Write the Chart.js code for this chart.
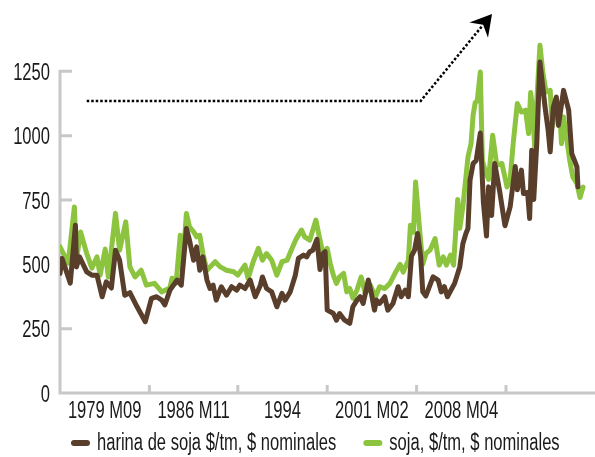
<!DOCTYPE html>
<html>
<head>
<meta charset="utf-8">
<script src="https://cdn.jsdelivr.net/npm/chart.js@4.4.1/dist/chart.umd.min.js"></script>
<style>
  body { margin: 0; background: #fff; }
</style>
</head>
<body>
<canvas id="grafico" width="595" height="457"></canvas>
<script>
// meses contados desde 1979 M09
const mesesHarina = [0, 2, 10, 15, 16, 19, 26, 31, 36, 41, 45, 50, 54, 58, 63, 68, 75, 83, 89, 94, 99, 102, 107, 114, 118,
    123, 126, 130, 133, 136, 139, 143, 146, 149, 152, 157, 162, 167, 172, 175, 180, 185, 190, 195, 197, 201, 206, 211, 216,
    219, 224, 229, 232, 237, 240, 243, 246, 250, 253, 256, 258, 260, 263, 266, 269, 272, 277, 282, 285, 289, 292, 295, 300,
    303, 306, 308, 311, 316, 319, 324, 329, 332, 336, 339, 342, 345, 348, 351, 353, 356, 360, 363, 368, 371, 374, 377, 384,
    389, 392, 395, 397, 399, 402, 405, 409, 412, 415, 417, 420, 423, 428, 433, 438, 443, 445, 449, 451, 455, 457, 459, 461,
    464, 467, 472, 475, 477, 480, 483, 485, 490, 495, 498, 501, 503, 504];
const harina = [465, 523, 427, 652, 490, 529, 471, 458, 458, 374, 432, 408, 555, 516, 380, 390, 335, 277, 368, 374, 361, 342, 400, 439, 419,
    639, 594, 516, 568, 477, 529, 439, 406, 419, 361, 413, 380, 413, 400, 419, 406, 439, 374, 419, 451, 406, 393, 335, 387,
    361, 393, 458, 523, 536, 529, 549, 555, 597, 480, 542, 549, 322, 316, 309, 283, 309, 283, 271, 335, 361, 374, 348, 439,
    387, 322, 361, 348, 374, 322, 348, 413, 374, 400, 374, 532, 555, 620, 529, 393, 377, 419, 451, 439, 393, 413, 374, 426,
    490, 580, 620, 640, 827, 892, 904, 1010, 740, 610, 801, 690, 892, 780, 650, 723, 880, 790, 866, 775, 780, 678, 943, 752,
    975, 1286, 1111, 1021, 937, 1110, 1150, 1040, 1176, 1099, 930, 900, 879, 801];

const mesesSoja = [0, 8, 14, 16, 20, 26, 31, 36, 39, 44, 47, 54, 58, 64, 68, 73, 79, 84, 92, 99, 107, 109, 113, 117, 119,
    123, 126, 130, 133, 136, 139, 143, 146, 151, 156, 162, 169, 173, 180, 183, 188, 193, 197, 201, 206, 211, 216, 221, 225,
    230, 235, 238, 243, 249, 253, 256, 260, 263, 266, 269, 272, 276, 279, 282, 285, 289, 293, 297, 302, 307, 311, 316, 321,
    326, 331, 334, 339, 341, 344, 346, 350, 353, 356, 360, 365, 369, 373, 376, 380, 383, 387, 389, 392, 397, 400, 402, 404,
    406, 409, 411, 414, 417, 421, 425, 430, 435, 438, 441, 445, 449, 453, 456, 458, 460, 462, 464, 467, 470, 473, 477, 479,
    483, 486, 488, 490, 493, 496, 499, 503, 506, 509];
const soja = [568, 505, 723, 516, 626, 542, 485, 529, 458, 559, 451, 698, 555, 665, 490, 451, 477, 419, 426, 393, 408, 446, 427, 613, 477,
    698, 646, 626, 607, 613, 542, 477, 490, 510, 490, 477, 471, 458, 497, 445, 510, 562, 516, 542, 516, 458, 510, 516, 555,
    600, 633, 607, 594, 672, 594, 542, 562, 503, 458, 426, 451, 465, 393, 406, 368, 400, 451, 387, 419, 374, 413, 406, 426,
    465, 500, 470, 516, 652, 625, 820, 633, 500, 542, 555, 600, 497, 529, 497, 536, 497, 752, 640, 723, 917, 969, 1080, 1128,
    1135, 1247, 904, 860, 830, 1002, 885, 892, 801, 827, 970, 1125, 1092, 1099, 1008, 1168, 1100, 950, 1137, 1351, 1241, 1170, 1176, 1034,
    1140, 1111, 969, 1073, 990, 904, 840, 814, 760, 800];

const etiquetasX = ['1979 M09', '1986 M11', '1994', '2001 M02', '2008 M04'];
const limitesX = [0, 87, 173, 260, 347, 434];
const ticksY = [0, 250, 500, 750, 1000, 1250];

// flecha punteada (mes, valor)
const flechaMeses = [26, 351, 420.4];
const flechaValores = [1135, 1135, 1473];

const colorTexto = '#1a1a1a';
const colorEje = '#c8c8c8';
// Liberation Sans estrechada, parecida a una condensada
const fuenteTexto = '23px "Liberation Sans", Arial, sans-serif';
const estrechar = 0.72;

const posEtiquetas = etiquetasX.map((e, i) => (limitesX[i] + limitesX[i + 1]) / 2);

function texto(ctx, s, x, y, align) {
    ctx.save();
    ctx.translate(x, y);
    ctx.scale(estrechar, 1);
    ctx.textAlign = align;
    ctx.textBaseline = 'alphabetic';
    ctx.fillText(s, 0, 0);
    ctx.restore();
}

// ejes grises con marcas hacia dentro
const ejes = {
    id: 'ejes',
    beforeDatasetsDraw(chart) {
        const { ctx, chartArea, scales: { x, y } } = chart;
        const x0 = chartArea.left;
        const y0 = y.getPixelForValue(0);
        ctx.save();
        ctx.strokeStyle = colorEje;
        ctx.lineWidth = 3;
        ctx.beginPath();
        ctx.moveTo(x0, y0);
        ctx.lineTo(x0, y.getPixelForValue(1250) - 1.5);
        ctx.moveTo(x0 - 1.5, y0);
        ctx.lineTo(chartArea.right, y0);
        ticksY.forEach(v => {
            const py = y.getPixelForValue(v);
            ctx.moveTo(x0, py);
            ctx.lineTo(x0 + 12, py);
        });
        limitesX.slice(1).forEach(m => {
            const px = x.getPixelForValue(m);
            ctx.moveTo(px, y0);
            ctx.lineTo(px, y0 - 8);
        });
        ctx.stroke();
        ctx.restore();
    }
};

const flecha = {
    id: 'flecha',
    afterDatasetsDraw(chart) {
        const { ctx, scales: { x, y } } = chart;
        const pts = flechaMeses.map((m, i) => [x.getPixelForValue(m), y.getPixelForValue(flechaValores[i])]);
        const tip = pts[pts.length - 1];
        const prev = pts[pts.length - 2];
        const len = Math.hypot(tip[0] - prev[0], tip[1] - prev[1]);
        const ux = (tip[0] - prev[0]) / len, uy = (tip[1] - prev[1]) / len;
        const nx = -uy, ny = ux;
        ctx.save();
        ctx.strokeStyle = '#000';
        ctx.lineWidth = 2.5;
        ctx.setLineDash([2.5, 2]);
        ctx.beginPath();
        ctx.moveTo(pts[0][0], pts[0][1]);
        for (let i = 1; i < pts.length - 1; i++) ctx.lineTo(pts[i][0], pts[i][1]);
        ctx.lineTo(tip[0] - ux * 15, tip[1] - uy * 15);
        ctx.stroke();
        ctx.setLineDash([]);
        ctx.fillStyle = '#000';
        ctx.beginPath();
        ctx.moveTo(tip[0], tip[1]);
        ctx.lineTo(tip[0] - ux * 21 + nx * 12, tip[1] - uy * 21 + ny * 12);
        ctx.lineTo(tip[0] - ux * 14, tip[1] - uy * 14);
        ctx.lineTo(tip[0] - ux * 21 - nx * 12, tip[1] - uy * 21 - ny * 12);
        ctx.closePath();
        ctx.fill();
        ctx.restore();
    }
};

// etiquetas de ejes y leyenda con letra estrecha
const textos = {
    id: 'textos',
    afterDraw(chart) {
        const { ctx, chartArea, scales: { x, y } } = chart;
        const y0 = y.getPixelForValue(0);
        ctx.save();
        ctx.font = fuenteTexto;
        ctx.fillStyle = colorTexto;
        ticksY.forEach(v => texto(ctx, String(v), chartArea.left - 10, y.getPixelForValue(v) + 8.5, 'right'));
        etiquetasX.forEach((e, i) => texto(ctx, e, x.getPixelForValue(posEtiquetas[i]), y0 + 25, 'center'));
        let cx = 71;
        const yLeyenda = chart.height - 7;
        chart.data.datasets.forEach(ds => {
            ctx.fillStyle = ds.borderColor;
            ctx.beginPath();
            ctx.roundRect(cx, yLeyenda - 10, 19, 6, 3);
            ctx.fill();
            ctx.fillStyle = colorTexto;
            texto(ctx, ds.label, cx + 26, yLeyenda, 'left');
            cx += 26 + ctx.measureText(ds.label).width * estrechar + 27;
        });
        ctx.restore();
    }
};

const ctx = document.getElementById('grafico').getContext('2d');
new Chart(ctx, {
    type: 'line',
    data: {
        datasets: [{
            label: 'harina de soja $/tm, $ nominales',
            data: harina.map((v, i) => ({ x: mesesHarina[i], y: v })),
            borderColor: '#583e2b',
            backgroundColor: '#583e2b',
            borderWidth: 5,
            pointRadius: 0,
            tension: 0,
            borderJoinStyle: 'round',
            borderCapStyle: 'round'
        }, {
            label: 'soja, $/tm, $ nominales',
            data: soja.map((v, i) => ({ x: mesesSoja[i], y: v })),
            borderColor: '#8dc43f',
            backgroundColor: '#8dc43f',
            borderWidth: 5,
            pointRadius: 0,
            tension: 0,
            borderJoinStyle: 'round',
            borderCapStyle: 'round'
        }]
    },
    options: {
        responsive: false,
        animation: false,
        devicePixelRatio: 1,
        layout: { padding: { top: 7, left: 0, right: 0, bottom: 0 } },
        scales: {
            x: {
                type: 'linear',
                min: 0,
                max: 520.6,
                grid: { display: false, drawTicks: false },
                border: { display: false },
                ticks: { display: false },
                afterFit(scale) {
                    scale.height = 64;
                    scale.paddingLeft = 0;
                    scale.paddingRight = 0;
                }
            },
            y: {
                min: 0,
                max: 1500,
                grid: { display: false, drawTicks: false },
                border: { display: false },
                ticks: { display: false },
                afterFit(scale) {
                    scale.width = 60;
                    scale.paddingTop = 0;
                    scale.paddingBottom = 0;
                }
            }
        },
        plugins: {
            tooltip: { enabled: false },
            legend: { display: false }
        }
    },
    plugins: [ejes, flecha, textos]
});
</script>
</body>
</html>
